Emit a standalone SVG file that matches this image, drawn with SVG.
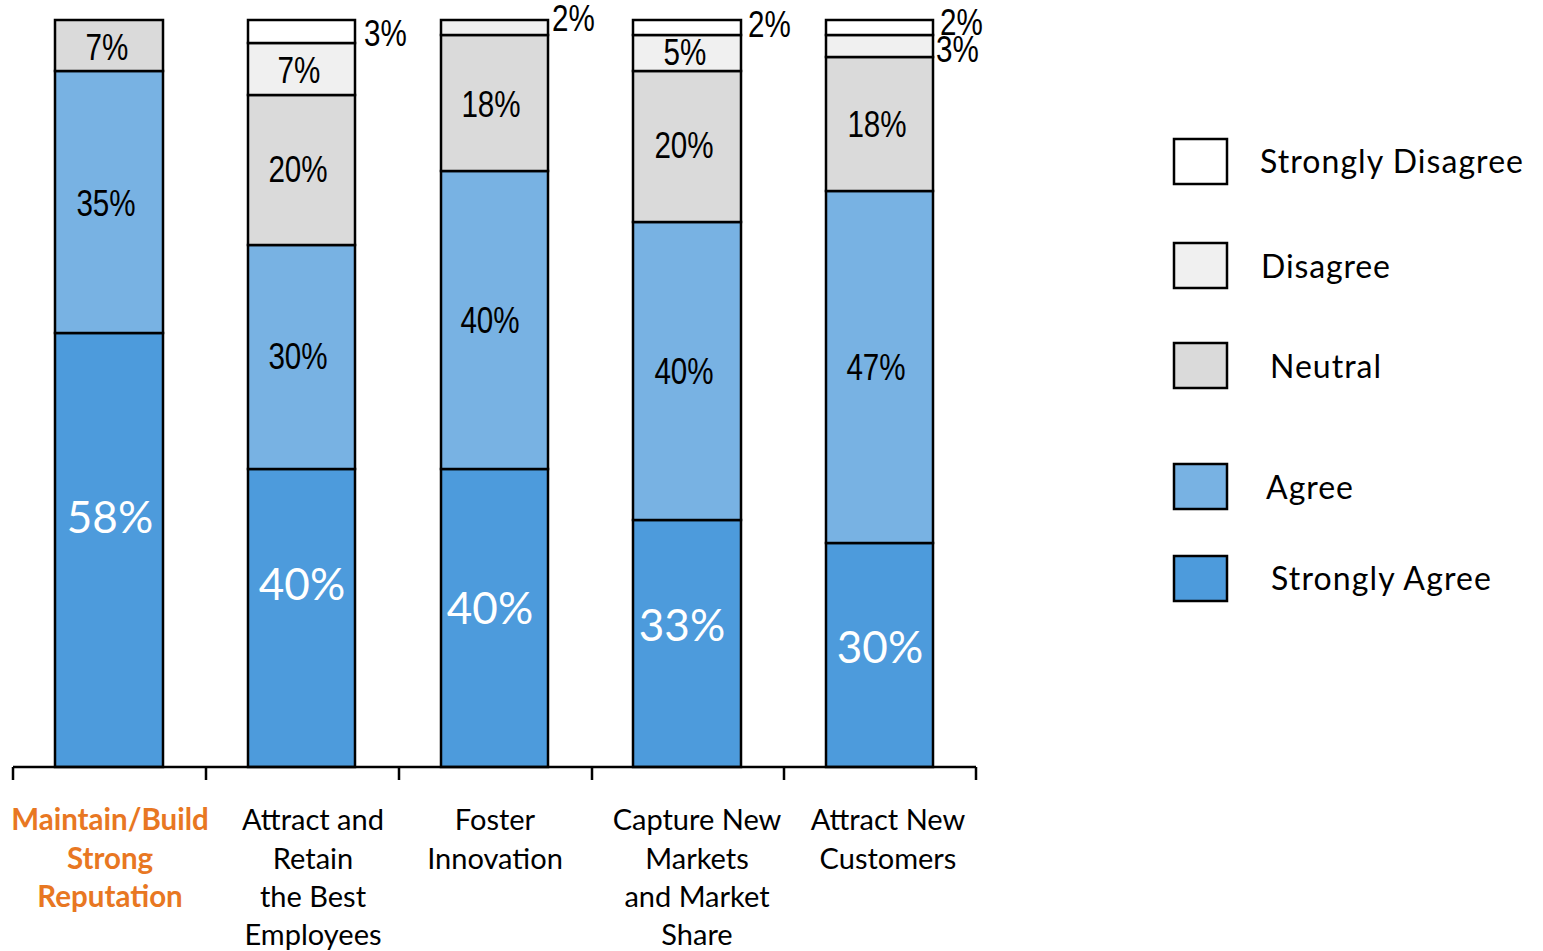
<svg xmlns="http://www.w3.org/2000/svg" width="1543" height="951" viewBox="0 0 1543 951">
<style>
.sd{fill:#ffffff}.di{fill:#f0f0f0}.ne{fill:#dadada}.ag{fill:#78b2e3}.sa{fill:#4d9bdc}
rect{stroke:#000;stroke-width:2.5}
.n{font-family:"Liberation Sans",Arial,sans-serif;font-size:37px;fill:#000}
.w{font-family:Lato,"Open Sans",sans-serif;font-size:44px;fill:#fff;text-anchor:middle}
.c{font-family:Lato,"Open Sans",sans-serif;font-size:29px;fill:#000;text-anchor:middle}
.co{font-family:Lato,"Open Sans",sans-serif;font-size:29.5px;fill:#e87722;font-weight:bold;text-anchor:middle}
.l{font-family:Lato,"Open Sans",sans-serif;font-size:32px;fill:#000}
.ax{stroke:#000;stroke-width:2.5;fill:none}
</style>
<g id="bar1">
<rect class="sa" x="55" y="333" width="108" height="434"/>
<rect class="ag" x="55" y="71" width="108" height="262"/>
<rect class="ne" x="55" y="20" width="108" height="51"/>
<text class="n" text-anchor="middle" transform="translate(107,60) scale(0.8,1)">7%</text>
<text class="n" text-anchor="middle" transform="translate(106,216) scale(0.8,1)">35%</text>
<text class="w" x="110" y="533">58%</text>
</g>
<g id="bar2">
<rect class="sa" x="248" y="469" width="107" height="298"/>
<rect class="ag" x="248" y="245" width="107" height="224"/>
<rect class="ne" x="248" y="95" width="107" height="150"/>
<rect class="di" x="248" y="43" width="107" height="52"/>
<rect class="sd" x="248" y="20" width="107" height="23"/>
<text class="n" transform="translate(364,46) scale(0.8,1)">3%</text>
<text class="n" text-anchor="middle" transform="translate(299,83) scale(0.8,1)">7%</text>
<text class="n" text-anchor="middle" transform="translate(298,182) scale(0.8,1)">20%</text>
<text class="n" text-anchor="middle" transform="translate(298,369) scale(0.8,1)">30%</text>
<text class="w" x="302" y="600">40%</text>
</g>
<g id="bar3">
<rect class="sa" x="441" y="469" width="107" height="298"/>
<rect class="ag" x="441" y="171" width="107" height="298"/>
<rect class="ne" x="441" y="35" width="107" height="136"/>
<rect class="di" x="441" y="20" width="107" height="15"/>
<text class="n" transform="translate(552,31) scale(0.8,1)">2%</text>
<text class="n" text-anchor="middle" transform="translate(491,117) scale(0.8,1)">18%</text>
<text class="n" text-anchor="middle" transform="translate(490,333) scale(0.8,1)">40%</text>
<text class="w" x="490" y="624">40%</text>
</g>
<g id="bar4">
<rect class="sa" x="633" y="520" width="108" height="247"/>
<rect class="ag" x="633" y="222" width="108" height="298"/>
<rect class="ne" x="633" y="71" width="108" height="151"/>
<rect class="di" x="633" y="35" width="108" height="36"/>
<rect class="sd" x="633" y="20" width="108" height="15"/>
<text class="n" transform="translate(748,37) scale(0.8,1)">2%</text>
<text class="n" text-anchor="middle" transform="translate(685,65) scale(0.8,1)">5%</text>
<text class="n" text-anchor="middle" transform="translate(684,158) scale(0.8,1)">20%</text>
<text class="n" text-anchor="middle" transform="translate(684,384) scale(0.8,1)">40%</text>
<text class="w" x="682" y="641">33%</text>
</g>
<g id="bar5">
<rect class="sa" x="826" y="543" width="107" height="224"/>
<rect class="ag" x="826" y="191" width="107" height="352"/>
<rect class="ne" x="826" y="57" width="107" height="134"/>
<rect class="di" x="826" y="35" width="107" height="22"/>
<rect class="sd" x="826" y="20" width="107" height="15"/>
<text class="n" transform="translate(940,35) scale(0.8,1)">2%</text>
<text class="n" transform="translate(936,62) scale(0.8,1)">3%</text>
<text class="n" text-anchor="middle" transform="translate(877,137) scale(0.8,1)">18%</text>
<text class="n" text-anchor="middle" transform="translate(876,380) scale(0.8,1)">47%</text>
<text class="w" x="880" y="663">30%</text>
</g>
<g id="axis">
<path class="ax" d="M13,767 H976 M13,767 V780 M206,767 V780 M399,767 V780 M592,767 V780 M784,767 V780 M976,767 V780"/>
</g>
<g id="categories">
<text class="co" x="110" y="830">Maintain/Build</text>
<text class="co" x="110" y="869">Strong</text>
<text class="co" x="110" y="907">Reputation</text>
<text class="c" x="313" y="830">Attract and</text>
<text class="c" x="313" y="869">Retain</text>
<text class="c" x="313" y="907">the Best</text>
<text class="c" x="313" y="945">Employees</text>
<text class="c" x="495" y="830">Foster</text>
<text class="c" x="495" y="869">Innovation</text>
<text class="c" x="697" y="830">Capture New</text>
<text class="c" x="697" y="869">Markets</text>
<text class="c" x="697" y="907">and Market</text>
<text class="c" x="697" y="945">Share</text>
<text class="c" x="888" y="830">Attract New</text>
<text class="c" x="888" y="869">Customers</text>
</g>
<g id="legend">
<rect class="sd" x="1174" y="139" width="53" height="45"/>
<text class="l" x="1260" y="173" textLength="263" lengthAdjust="spacing">Strongly Disagree</text>
<rect class="di" x="1174" y="243" width="53" height="45"/>
<text class="l" x="1261" y="278" textLength="129" lengthAdjust="spacing">Disagree</text>
<rect class="ne" x="1174" y="343" width="53" height="45"/>
<text class="l" x="1270" y="378" textLength="111" lengthAdjust="spacing">Neutral</text>
<rect class="ag" x="1174" y="464" width="53" height="45"/>
<text class="l" x="1266" y="499" textLength="87" lengthAdjust="spacing">Agree</text>
<rect class="sa" x="1174" y="556" width="53" height="45"/>
<text class="l" x="1271" y="590" textLength="220" lengthAdjust="spacing">Strongly Agree</text>
</g>
</svg>
